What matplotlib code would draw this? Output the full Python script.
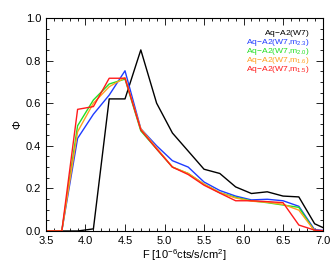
import numpy as np
import matplotlib
matplotlib.use('Agg')
import matplotlib.pyplot as plt
from matplotlib.ticker import MultipleLocator

plt.rcParams['font.family'] = ['Liberation Sans', 'DejaVu Sans']
plt.rcParams['mathtext.fontset'] = 'custom'
plt.rcParams['mathtext.rm'] = 'Liberation Sans'
plt.rcParams['mathtext.it'] = 'Liberation Sans'

# bin centres (last one lies past the axis and is clipped)
flux = [3.5, 3.7, 3.9, 4.1, 4.3, 4.5, 4.7, 4.9, 5.1, 5.3, 5.5, 5.7,
        5.9, 6.1, 6.3, 6.5, 6.7, 6.9, 7.1]

phi_w7 = [0.0, 0.0, 0.0, 0.01, 0.62, 0.62, 0.85, 0.60, 0.46, 0.375, 0.29, 0.27,
          0.207, 0.176, 0.184, 0.164, 0.16, 0.034, 0.0]
phi_m23 = [0.0, 0.0, 0.435, 0.548, 0.638, 0.752, 0.48, 0.40, 0.33, 0.30, 0.23, 0.19,
           0.164, 0.146, 0.149, 0.142, 0.116, 0.006, 0.0]
phi_m20 = [0.0, 0.0, 0.494, 0.615, 0.69, 0.713, 0.47, 0.385, 0.30, 0.27, 0.22, 0.18,
           0.158, 0.142, 0.133, 0.122, 0.111, 0.0, 0.0]
phi_m16 = [0.0, 0.0, 0.466, 0.60, 0.677, 0.72, 0.48, 0.39, 0.30, 0.27, 0.22, 0.18,
           0.155, 0.14, 0.135, 0.125, 0.098, 0.0, 0.0]
phi_m15 = [0.0, 0.0, 0.571, 0.584, 0.717, 0.717, 0.475, 0.385, 0.30, 0.265, 0.215, 0.178,
           0.142, 0.142, 0.138, 0.133, 0.028, 0.004, 0.0]

labels = ['Aq$-$A2(W7)', 'Aq$-$A2(W7,m$_{2.3}$)', 'Aq$-$A2(W7,m$_{2.0}$)',
          'Aq$-$A2(W7,m$_{1.6}$)', 'Aq$-$A2(W7,m$_{1.5}$)']
colors = ['black', '#1f3cff', '#22e022', '#ffa020', '#ff1a1a']
series = [phi_w7, phi_m23, phi_m20, phi_m16, phi_m15]

fig = plt.figure(figsize=(3.34, 2.67), dpi=100)
ax = fig.add_axes([0.1377, 0.1348, 0.828, 0.798])

# draw black first so coloured curves sit on top
for s, c in zip(series, colors):
    ax.plot(flux, s, color=c, lw=1.0)

ax.set_xlim(3.5, 7.0)
ax.set_ylim(0.0, 1.0)
ax.xaxis.set_major_locator(MultipleLocator(0.5))
ax.xaxis.set_minor_locator(MultipleLocator(0.1))
ax.yaxis.set_major_locator(MultipleLocator(0.2))
ax.yaxis.set_minor_locator(MultipleLocator(0.05))
ax.xaxis.set_major_formatter(matplotlib.ticker.FormatStrFormatter('%.1f'))
ax.yaxis.set_major_formatter(matplotlib.ticker.FormatStrFormatter('%.1f'))
ax.tick_params(which='both', direction='in', top=True, right=True,
               labelsize=8, width=0.6)
ax.tick_params(which='major', length=5)
ax.tick_params(which='minor', length=2.5)
for sp in ax.spines.values():
    sp.set_linewidth(0.8)

ax.set_xlabel('F [10$^{-6}$cts/s/cm$^2$]', fontsize=8, labelpad=1)
ax.set_ylabel('$\\Phi$', fontsize=8, labelpad=2)

ys = [0.92, 0.878, 0.836, 0.793, 0.751]
for lab, c, y in zip(labels, colors, ys):
    ax.text(0.955, y, lab, color=c, fontsize=6.1, ha='right', va='baseline',
            transform=ax.transAxes)

fig.savefig('out.png', dpi=100)
